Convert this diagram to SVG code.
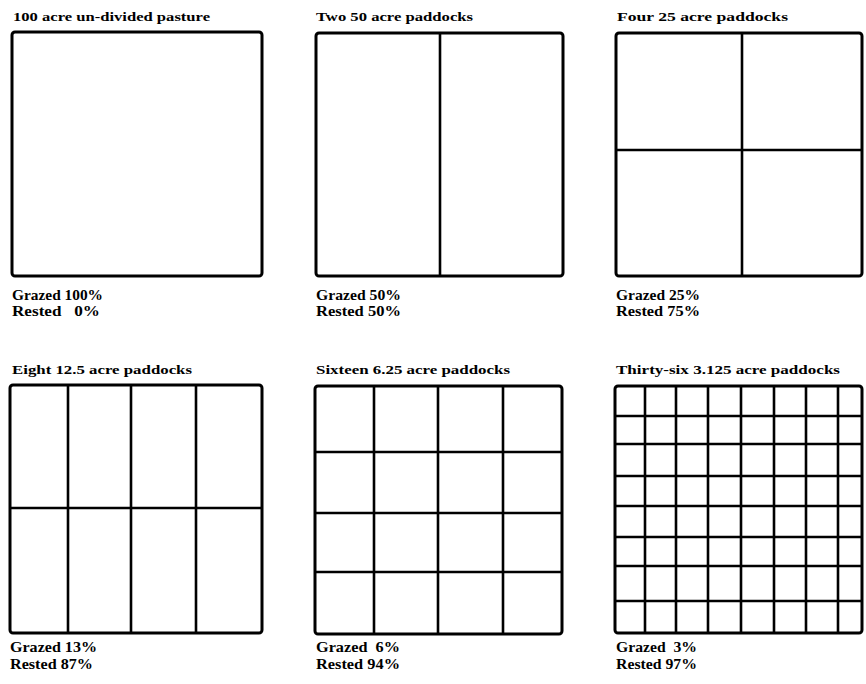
<svg xmlns="http://www.w3.org/2000/svg" width="866" height="684" viewBox="0 0 866 684">
<style>
.bg{fill:#fff}
.box{fill:none;stroke:#000;stroke-width:3;stroke-linejoin:round}
.div{stroke:#000;stroke-width:2.6;fill:none}
.t{font-family:"Liberation Serif","Times New Roman",serif;font-weight:bold;font-size:13px;fill:#000}
.l{font-family:"Liberation Serif","Times New Roman",serif;font-weight:bold;font-size:14px;fill:#000}
</style>
<rect class="bg" x="0" y="0" width="866" height="684"/>
<g id="panel-100">
<text class="t" x="13" y="21" textLength="197" lengthAdjust="spacingAndGlyphs">100 acre un-divided pasture</text>
<rect class="box" x="12" y="32" width="250" height="244" rx="3"/>
<text class="l" x="12" y="300" textLength="91" lengthAdjust="spacingAndGlyphs">Grazed 100%</text>
<text class="l" x="12" y="316" textLength="88" lengthAdjust="spacingAndGlyphs" xml:space="preserve">Rested   0%</text>
</g>
<g id="panel-50">
<text class="t" x="316" y="21" textLength="157" lengthAdjust="spacingAndGlyphs">Two 50 acre paddocks</text>
<rect class="box" x="316" y="33" width="247" height="243" rx="3"/>
<line class="div" x1="440" y1="33" x2="440" y2="276"/>
<text class="l" x="316" y="300" textLength="85" lengthAdjust="spacingAndGlyphs">Grazed 50%</text>
<text class="l" x="316" y="316" textLength="85" lengthAdjust="spacingAndGlyphs">Rested 50%</text>
</g>
<g id="panel-25">
<text class="t" x="617" y="21" textLength="171" lengthAdjust="spacingAndGlyphs">Four 25 acre paddocks</text>
<rect class="box" x="616" y="33" width="246" height="243" rx="3"/>
<line class="div" x1="742" y1="33" x2="742" y2="276"/>
<line class="div" x1="616" y1="150" x2="862" y2="150"/>
<text class="l" x="616" y="300" textLength="84" lengthAdjust="spacingAndGlyphs">Grazed 25%</text>
<text class="l" x="616" y="316" textLength="84" lengthAdjust="spacingAndGlyphs">Rested 75%</text>
</g>
<g id="panel-12-5">
<text class="t" x="12" y="374" textLength="180" lengthAdjust="spacingAndGlyphs">Eight 12.5 acre paddocks</text>
<rect class="box" x="10" y="385" width="252" height="248" rx="3"/>
<line class="div" x1="68" y1="385" x2="68" y2="633"/>
<line class="div" x1="131" y1="385" x2="131" y2="633"/>
<line class="div" x1="196" y1="385" x2="196" y2="633"/>
<line class="div" x1="10" y1="508" x2="262" y2="508"/>
<text class="l" x="10" y="652" textLength="87" lengthAdjust="spacingAndGlyphs">Grazed 13%</text>
<text class="l" x="10" y="669" textLength="83" lengthAdjust="spacingAndGlyphs">Rested 87%</text>
</g>
<g id="panel-6-25">
<text class="t" x="316" y="374" textLength="194" lengthAdjust="spacingAndGlyphs">Sixteen 6.25 acre paddocks</text>
<rect class="box" x="315" y="386" width="247" height="248" rx="3"/>
<line class="div" x1="374" y1="386" x2="374" y2="634"/>
<line class="div" x1="438" y1="386" x2="438" y2="634"/>
<line class="div" x1="503" y1="386" x2="503" y2="634"/>
<line class="div" x1="315" y1="452" x2="562" y2="452"/>
<line class="div" x1="315" y1="513" x2="562" y2="513"/>
<line class="div" x1="315" y1="572" x2="562" y2="572"/>
<text class="l" x="316" y="652" textLength="84" lengthAdjust="spacingAndGlyphs" xml:space="preserve">Grazed  6%</text>
<text class="l" x="316" y="669" textLength="84" lengthAdjust="spacingAndGlyphs">Rested 94%</text>
</g>
<g id="panel-3-125">
<text class="t" x="616" y="374" textLength="224" lengthAdjust="spacingAndGlyphs">Thirty-six 3.125 acre paddocks</text>
<rect class="box" x="615" y="386" width="247" height="247" rx="3"/>
<line class="div" x1="645" y1="386" x2="645" y2="633"/>
<line class="div" x1="676" y1="386" x2="676" y2="633"/>
<line class="div" x1="708" y1="386" x2="708" y2="633"/>
<line class="div" x1="741" y1="386" x2="741" y2="633"/>
<line class="div" x1="774" y1="386" x2="774" y2="633"/>
<line class="div" x1="806" y1="386" x2="806" y2="633"/>
<line class="div" x1="838" y1="386" x2="838" y2="633"/>
<line class="div" x1="615" y1="416" x2="862" y2="416"/>
<line class="div" x1="615" y1="444" x2="862" y2="444"/>
<line class="div" x1="615" y1="476" x2="862" y2="476"/>
<line class="div" x1="615" y1="506" x2="862" y2="506"/>
<line class="div" x1="615" y1="537" x2="862" y2="537"/>
<line class="div" x1="615" y1="566" x2="862" y2="566"/>
<line class="div" x1="615" y1="601" x2="862" y2="601"/>
<text class="l" x="616" y="652" textLength="81" lengthAdjust="spacingAndGlyphs" xml:space="preserve">Grazed  3%</text>
<text class="l" x="616" y="669" textLength="81" lengthAdjust="spacingAndGlyphs">Rested 97%</text>
</g>
</svg>
